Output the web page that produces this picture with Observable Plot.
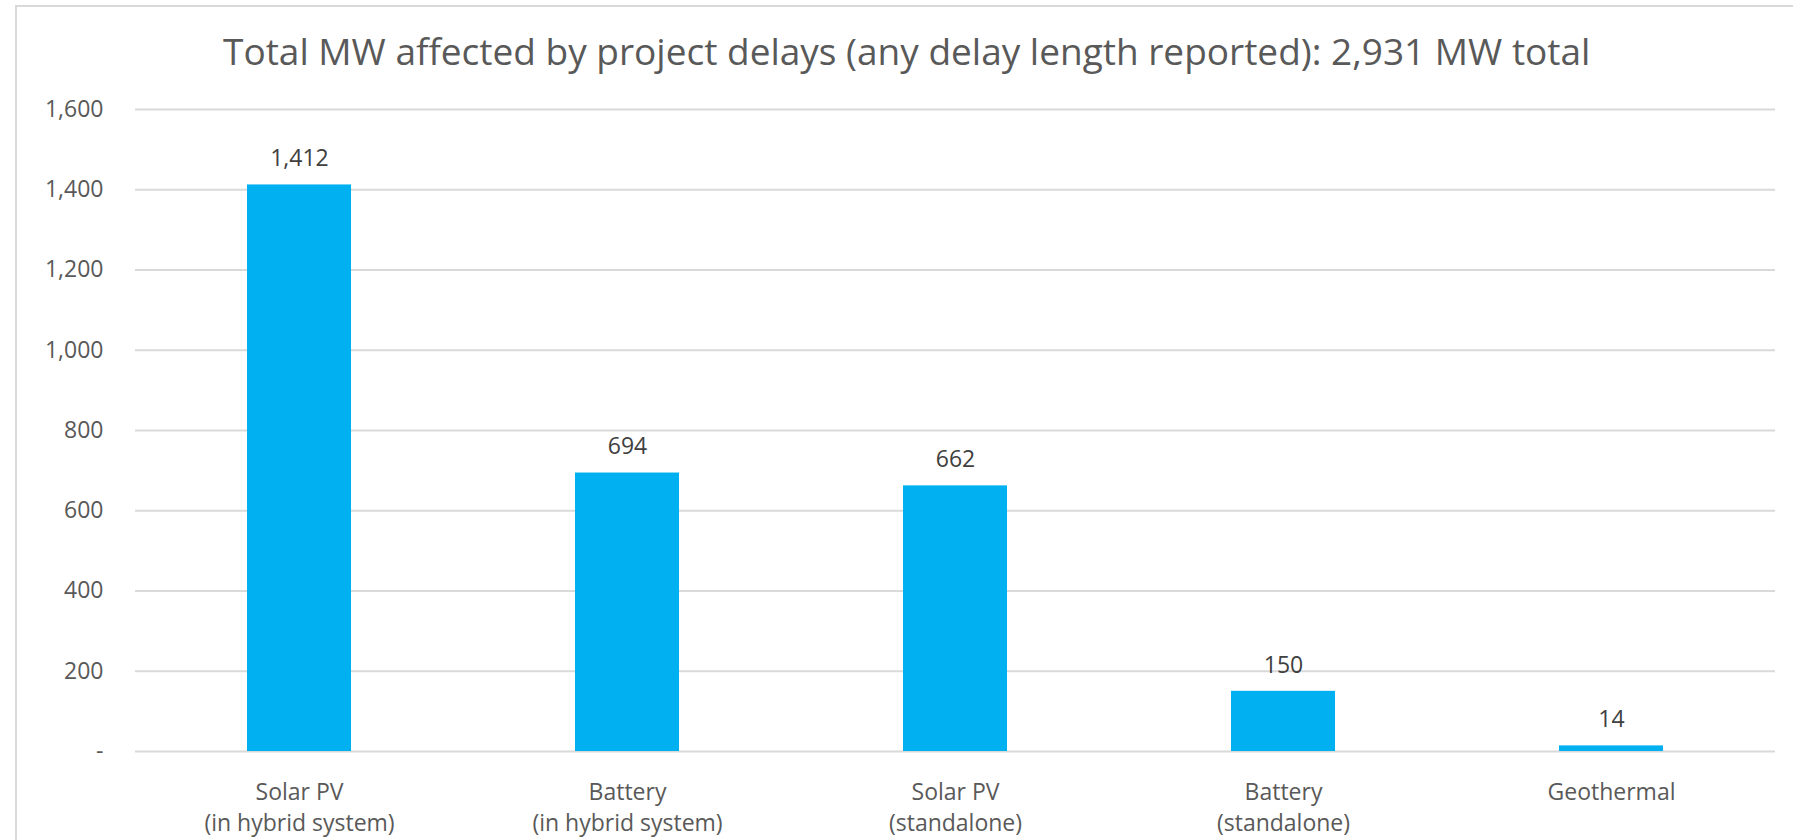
<!DOCTYPE html>
<html>
<head>
<meta charset="utf-8">
<script src="https://cdn.jsdelivr.net/npm/d3@7"></script>
<script src="https://cdn.jsdelivr.net/npm/@observablehq/plot@0.6"></script>
<style>
  html, body { margin: 0; padding: 0; background: #fff; }
  #wrap { position: relative; width: 1793px; height: 840px; overflow: hidden; font-family: "Open Sans", sans-serif; }
  #frame { position: absolute; left: 15px; top: 5px; right: -10px; bottom: -10px; border-left: 2px solid #d9d9d9; border-top: 2px solid #d9d9d9; }
  #title { position: absolute; left: 0; top: 0; width: 1793px; height: 90px; }
  #title span { position: absolute; left: 223px; top: 32px; font-size: 37px; color: #595959; white-space: nowrap; line-height: 1; }
  #chart { position: absolute; left: 0; top: 90px; }
</style>
</head>
<body>
<div id="wrap">
  <div id="frame"></div>
  <div id="title"><span>Total MW affected by project delays (any delay length reported): 2,931 MW total</span></div>
  <div id="chart"></div>
</div>
<script>
const categories = [
  "Solar PV\n(in hybrid system)",
  "Battery\n(in hybrid system)",
  "Solar PV\n(standalone)",
  "Battery\n(standalone)",
  "Geothermal"
];
const values = [1412, 694, 662, 150, 14];
const yTicks = [0, 200, 400, 600, 800, 1000, 1200, 1400, 1600];

const data = categories.map((c, i) => ({category: c, value: values[i]}));
const fmt = d3.format(",");

const chart = Plot.plot({
  width: 1793,
  height: 750,
  marginTop: 19,
  marginBottom: 89,
  marginLeft: 135,
  marginRight: 18,
  style: {fontFamily: "Open Sans, sans-serif", background: "transparent", overflow: "visible"},
  x: {domain: categories, paddingInner: 0.683, paddingOuter: 0.3415, label: null},
  y: {domain: [0, 1600], label: null},
  marks: [
    Plot.gridY(yTicks, {stroke: "#d9d9d9", strokeOpacity: 1, strokeWidth: 2}),
    Plot.axisY(yTicks, {tickSize: 0, tickPadding: 32, fontSize: 23, fill: "#595959",
      tickFormat: d => d === 0 ? "-" : fmt(d), label: null}),
    Plot.axisX({tickSize: 0, tickPadding: 26, fontSize: 23, fill: "#595959", lineHeight: 1.35, label: null}),
    Plot.barY(data, {x: "category", y: "value", fill: "#00b0f0"}),
    Plot.text(data, {x: "category", y: "value", text: d => fmt(d.value), dy: -26, fontSize: 23, fill: "#404040"})
  ]
});
document.getElementById("chart").appendChild(chart);
</script>
</body>
</html>
